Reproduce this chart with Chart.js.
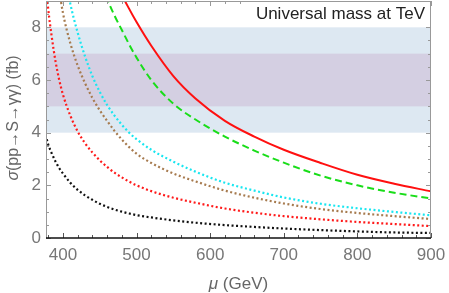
<!DOCTYPE html>
<html><head><meta charset="utf-8">
<script src="https://cdn.jsdelivr.net/npm/chart.js@4/dist/chart.umd.min.js"></script>
<style>html,body{margin:0;padding:0;background:#fff;}canvas{display:block}</style>
</head><body>
<canvas id="c" width="449" height="293"></canvas>
<script>
// ---- data ----
const muGrid = [378,380,385,390,395,400,410,420,430,440,450,460,470,480,490,500,520,550,580,620,660,700,750,800,850,900];
const sigmaRedSolid  = [null,null,null,null,null,null,null,null,null,null,null,null,10.0,9.25,8.7,8.2,7.3,6.15,5.3,4.45,3.85,3.35,2.85,2.4,2.06,1.77];
const sigmaGreen     = [null,null,null,null,null,null,null,null,null,null,10.0,9.1,8.45,7.9,7.35,6.85,6.0,5.1,4.5,3.85,3.32,2.86,2.37,2.0,1.72,1.5];
const sigmaCyan      = [null,null,null,null,11.3,10.4,8.9,7.8,6.9,6.15,5.55,5.05,4.65,4.3,4.0,3.75,3.35,2.9,2.52,2.1,1.8,1.54,1.3,1.13,0.99,0.86];
const sigmaBrown     = [null,null,11.5,10.3,9.4,8.55,7.4,6.55,5.88,5.32,4.85,4.45,4.07,3.74,3.45,3.2,2.85,2.45,2.15,1.8,1.53,1.31,1.1,0.95,0.83,0.72];
const sigmaRedDot    = [9.3,8.7,7.6,6.7,6.0,5.45,4.65,4.05,3.6,3.25,2.95,2.7,2.48,2.3,2.14,2.0,1.78,1.53,1.34,1.12,0.96,0.83,0.71,0.61,0.53,0.45];
const sigmaBlack     = [3.75,3.55,3.2,2.9,2.65,2.45,2.1,1.83,1.62,1.45,1.3,1.18,1.08,1.0,0.93,0.87,0.78,0.67,0.58,0.49,0.42,0.36,0.3,0.25,0.21,0.19];
const xTickValues = [400,500,600,700,800,900];
const yTickValues = [0,2,4,6,8];
const bandLow  = [4,5];
const bandHigh = [8,7];
const titleText = "Universal mass at TeV";
const xTitle = ["μ", " (GeV)"];
const yTitle = ["σ", "(pp→S→γγ) (fb)"];

const toPts = arr => muGrid.map((m,i)=>({x:m,y:arr[i]}));
const FONT = '"Liberation Sans", Arial, sans-serif';

const decor = {
  id:'decor',
  beforeDatasetsDraw(chart){
    const {ctx, chartArea:a, scales:{y}} = chart;
    const cols = ['#dde8f2','#d4cfe2'];
    ctx.save();
    for(let i=0;i<bandLow.length;i++){
      const t=y.getPixelForValue(bandHigh[i]), b=y.getPixelForValue(bandLow[i]);
      ctx.fillStyle=cols[i];
      ctx.fillRect(a.left,t,a.right-a.left,b-t);
    }
    ctx.restore();
  },
  afterDatasetsDraw(chart){
    const {ctx, chartArea:a, scales:{x,y}} = chart;
    ctx.save();
    // frame
    ctx.strokeStyle='#999'; ctx.lineWidth=1;
    ctx.beginPath();
    ctx.moveTo(a.left+0.5,a.bottom); ctx.lineTo(a.left+0.5,a.top+0.5); ctx.lineTo(a.right-0.5,a.top+0.5); ctx.lineTo(a.right-0.5,a.bottom);
    ctx.stroke();
    // ticks
    const xmin=x.min, xmax=x.max;
    for(let v=Math.ceil(xmin/20)*20; v<=xmax; v+=20){
      const px=Math.round(x.getPixelForValue(v))+0.5, major=(v%100===0), L=major?5:3;
      ctx.strokeStyle='#555'; ctx.beginPath(); ctx.moveTo(px,a.bottom); ctx.lineTo(px,a.bottom-L); ctx.stroke();
      ctx.strokeStyle='#999'; ctx.beginPath(); ctx.moveTo(px,a.top); ctx.lineTo(px,a.top+L); ctx.stroke();
    }
    for(let v=0; v<=y.max; v+=0.5){
      const py=Math.round(y.getPixelForValue(v))+0.5, major=(v%2===0), L=major?5:3;
      ctx.strokeStyle='#999';
      ctx.beginPath(); ctx.moveTo(a.left,py); ctx.lineTo(a.left+L,py); ctx.stroke();
      ctx.beginPath(); ctx.moveTo(a.right,py); ctx.lineTo(a.right-L,py); ctx.stroke();
    }
    // bottom axis
    ctx.strokeStyle='#111'; ctx.lineWidth=1.6;
    ctx.beginPath(); ctx.moveTo(a.left,a.bottom); ctx.lineTo(a.right,a.bottom); ctx.stroke();
    // title box
    ctx.font='17px '+FONT;
    const tw=ctx.measureText(titleText).width;
    ctx.fillStyle='#fff';
    ctx.fillRect(a.right-tw-10, a.top+1, tw+9, 24);
    ctx.fillStyle='#222'; ctx.textBaseline='alphabetic'; ctx.textAlign='left';
    ctx.fillText(titleText, a.right-tw-6, a.top+18);
    // x title
    ctx.fillStyle='#666';
    const f1='italic 17px '+FONT, f2='17px '+FONT;
    ctx.font=f1; const w1=ctx.measureText(xTitle[0]).width;
    ctx.font=f2; const w2=ctx.measureText(xTitle[1]).width;
    const cx=(a.left+a.right)/2 - (w1+w2)/2;
    ctx.font=f1; ctx.fillText(xTitle[0],cx,289);
    ctx.font=f2; ctx.fillText(xTitle[1],cx+w1,289);
    // y title
    const g1='italic 16px '+FONT, g2='16px '+FONT;
    ctx.translate(18,118); ctx.rotate(-Math.PI/2);
    ctx.font=g1; const v1=ctx.measureText(yTitle[0]).width;
    ctx.font=g2; const v2=ctx.measureText(yTitle[1]).width;
    const sx=-(v1+v2)/2;
    ctx.font=g1; ctx.fillText(yTitle[0],sx,0);
    ctx.font=g2; ctx.fillText(yTitle[1],sx+v1,0);
    ctx.restore();
  }
};

const ds = (data,color,dash,w)=>({data:toPts(data),borderColor:color,borderWidth:w,borderDash:dash,pointRadius:0,fill:false,cubicInterpolationMode:'monotone',borderCapStyle:'butt'});

new Chart(document.getElementById('c'),{
  type:'line',
  data:{datasets:[
    ds(sigmaBlack,'#111',[2,2.5],2.2),
    ds(sigmaRedDot,'#ff1a1a',[2,2.5],2.2),
    ds(sigmaBrown,'#a77b4f',[2,2.5],2.2),
    ds(sigmaCyan,'#19e6f0',[2,2.5],2.2),
    ds(sigmaGreen,'#19dd19',[7,4],2),
    ds(sigmaRedSolid,'#ff1010',[],2)
  ]},
  options:{
    responsive:false, animation:false, devicePixelRatio:1,
    layout:{padding:{top:1,right:18,left:0,bottom:0}},
    plugins:{legend:{display:false},tooltip:{enabled:false}},
    scales:{
      x:{type:'linear',min:377,max:900,
        grid:{display:false,drawTicks:false},border:{display:false},
        afterBuildTicks:s=>{s.ticks=xTickValues.map(v=>({value:v}));},
        afterFit:s=>{s.height=55;s.paddingLeft=0;s.paddingRight=0;},
        ticks:{color:'#777',font:{size:17,family:FONT},padding:7,maxRotation:0,autoSkip:false}},
      y:{min:0,max:9,
        grid:{display:false,drawTicks:false},border:{display:false},
        afterBuildTicks:s=>{s.ticks=yTickValues.map(v=>({value:v}));},
        afterFit:s=>{s.width=46;s.paddingTop=0;s.paddingBottom=0;},
        ticks:{color:'#777',font:{size:17,family:FONT},padding:5}}
    }
  },
  plugins:[decor]
});
</script>
</body></html>
